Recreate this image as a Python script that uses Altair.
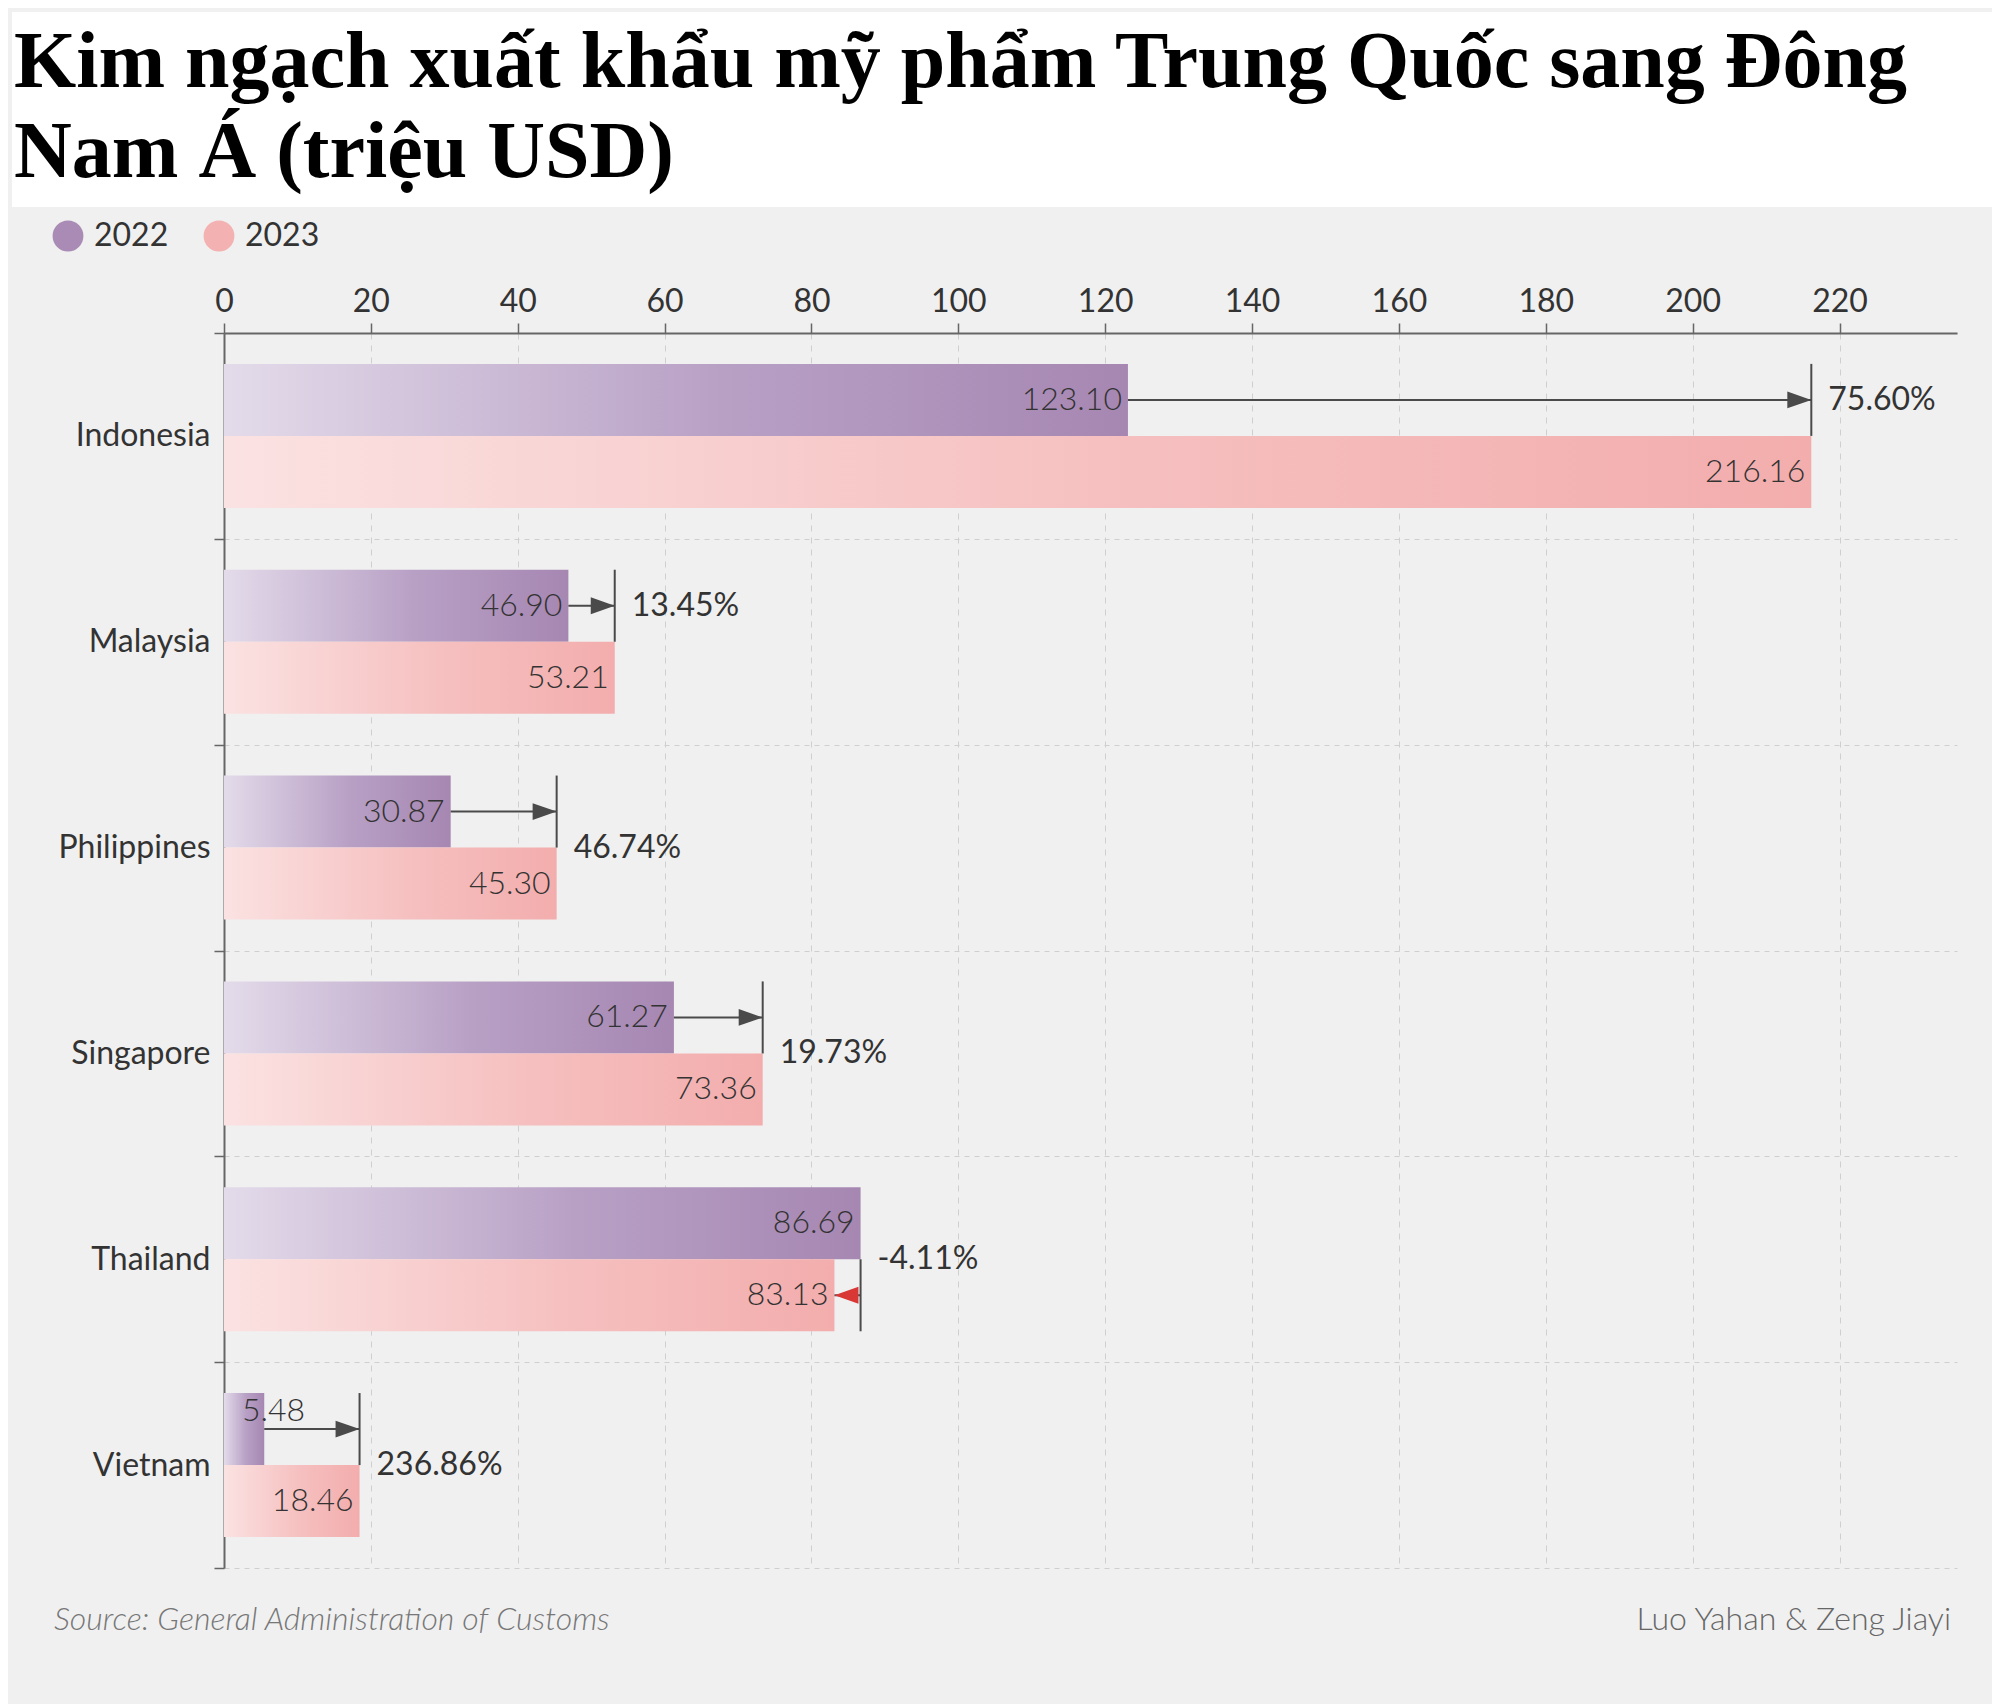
import altair as alt
import pandas as pd

# ---------------- data ----------------
countries = ["Indonesia", "Malaysia", "Philippines", "Singapore", "Thailand", "Vietnam"]
years = ["2022", "2023"]
v2022 = [123.10, 46.90, 30.87, 61.27, 86.69, 5.48]
v2023 = [216.16, 53.21, 45.30, 73.36, 83.13, 18.46]
pct_labels = ["75.60%", "13.45%", "46.74%", "19.73%", "-4.11%", "236.86%"]
pct_anchor = ["2022", "2022", "mid", "mid", "mid", "mid"]
x_ticks = [0, 20, 40, 60, 80, 100, 120, 140, 160, 180, 200, 220]

title_text = "Kim ngạch xuất khẩu mỹ phẩm Trung Quốc sang Đông\nNam Á (triệu USD)"
source_text = "Source: General Administration of Customs"
credit_text = "Luo Yahan & Zeng Jiayi"

# ---------------- tables ----------------
long_rows = []
for c, a, b in zip(countries, v2022, v2023):
    long_rows.append({"country": c, "year": "2022", "value": a, "label": f"{a:.2f}"})
    long_rows.append({"country": c, "year": "2023", "value": b, "label": f"{b:.2f}"})
long_df = pd.DataFrame(long_rows)

wide_df = pd.DataFrame({
    "country": countries,
    "v22": v2022,
    "v23": v2023,
    "pct": pct_labels,
    "anchor": pct_anchor,
})
wide_df["short_year"] = ["2022" if b > a else "2023" for a, b in zip(v2022, v2023)]
wide_df["xmax"] = [max(a, b) for a, b in zip(v2022, v2023)]
wide_df["up"] = [b > a for a, b in zip(v2022, v2023)]

# ---------------- styling ----------------
W, H = 1733, 1235
FONT = "Lato"
TXT = "#333333"
BG = "#f0f0f0"
C22, C23 = "#a98bb5", "#f4b1b1"
grad22 = {"gradient": "linear", "x1": 0, "y1": 0, "x2": 1, "y2": 0,
          "stops": [{"offset": 0, "color": "#e3dbea"},
                    {"offset": 0.55, "color": "#b8a0c5"},
                    {"offset": 1, "color": "#a687b2"}]}
grad23 = {"gradient": "linear", "x1": 0, "y1": 0, "x2": 1, "y2": 0,
          "stops": [{"offset": 0, "color": "#fbe2e2"},
                    {"offset": 0.55, "color": "#f6c0c0"},
                    {"offset": 1, "color": "#f3adad"}]}

x_axis = alt.Axis(orient="top", values=x_ticks, title=None, grid=True,
                  gridDash=[6, 6], gridColor="#cfcfcf", gridWidth=1,
                  domainColor="#666666", domainWidth=2, tickColor="#666666",
                  tickWidth=1.5, tickSize=10, labelFont=FONT, labelFontSize=32,
                  labelColor=TXT, labelPadding=5, labelFlush=False)
x_scale = alt.Scale(domain=[0, 236], nice=False, zero=True)

y_enc = alt.Y("country:N", sort=countries, title=None,
              scale=alt.Scale(paddingInner=0, paddingOuter=0),
              axis=alt.Axis(tickBand="extent", grid=True, gridDash=[5, 5],
                            gridColor="#cfcfcf", gridWidth=1,
                            domainColor="#666666", domainWidth=2,
                            tickColor="#666666", tickWidth=1.5, tickSize=10,
                            labelFont=FONT, labelFontSize=32, labelColor=TXT,
                            labelPadding=4))
yoff_scale = alt.Scale(domain=years, paddingInner=0, paddingOuter=0.4286)


def yoff(field):
    return alt.YOffset(f"{field}:N", scale=yoff_scale)


def xq(field):
    return alt.X(f"{field}:Q", scale=x_scale, axis=x_axis, title=None)


base_long = alt.Chart(long_df)
base_wide = alt.Chart(wide_df)
note_df = pd.DataFrame({"title": [title_text], "source": [source_text],
                        "credit": [credit_text]})
base_note = alt.Chart(note_df)

# white title band and the title itself
band = base_note.mark_rect(fill="#ffffff", stroke=None).encode(
    x=alt.value(-212), x2=alt.value(W + 35), y=alt.value(-321), y2=alt.value(-126))
title_layer = base_note.mark_text(
    align="left", baseline="alphabetic", lineBreak="\n", lineHeight=90,
    font="Liberation Serif", fontWeight="bold", fontSize=80, color="#000000"
).encode(x=alt.value(-210), y=alt.value(-246), text="title:N")

bars22 = base_long.transform_filter("datum.year == '2022'").mark_bar(
    fill=grad22, stroke=None).encode(x=xq("value"), y=y_enc, yOffset=yoff("year"))
bars23 = base_long.transform_filter("datum.year == '2023'").mark_bar(
    fill=grad23, stroke=None).encode(x=xq("value"), y=y_enc, yOffset=yoff("year"))

val_big = base_long.transform_filter("datum.value >= 12").mark_text(
    align="right", baseline="middle", dx=-6, font=FONT, fontWeight=300,
    fontSize=32, color=TXT).encode(x=xq("value"), y=y_enc, yOffset=yoff("year"),
                                   text="label:N")
val_small = base_long.transform_filter("datum.value < 12").transform_calculate(
    zero="0").mark_text(
    align="left", baseline="alphabetic", dx=18, dy=-8, font=FONT, fontWeight=300,
    fontSize=32, color=TXT).encode(x=xq("zero"), y=y_enc, yOffset=yoff("year"),
                                   text="label:N")

hline = base_wide.mark_rule(color="#4a4a4a", strokeWidth=2).encode(
    x=xq("v22"), x2="v23:Q", y=y_enc, yOffset=yoff("short_year"))
vtick = base_wide.mark_tick(orient="vertical", color="#4a4a4a", thickness=2,
                            size=72, opacity=1).encode(
    x=xq("xmax"), y=y_enc, yOffset=yoff("short_year"))
head_up = base_wide.transform_filter("datum.up").mark_point(
    shape="M-2,-0.7L0,0L-2,0.7Z", filled=True, size=576, color="#4a4a4a",
    opacity=1, strokeWidth=0).encode(x=xq("v23"), y=y_enc, yOffset=yoff("short_year"))
head_down = base_wide.transform_filter("!datum.up").mark_point(
    shape="M2,-0.7L0,0L2,0.7Z", filled=True, size=576, color="#d93636",
    opacity=1, strokeWidth=0).encode(x=xq("v23"), y=y_enc, yOffset=yoff("short_year"))

pct_bar = base_wide.transform_filter("datum.anchor == '2022'").mark_text(
    align="left", baseline="middle", dx=17, font=FONT, fontSize=32, color=TXT
).encode(x=xq("xmax"), y=y_enc, yOffset=yoff("anchor"), text="pct:N")
pct_mid = base_wide.transform_filter("datum.anchor == 'mid'").mark_text(
    align="left", baseline="middle", dx=17, font=FONT, fontSize=32, color=TXT
).encode(x=xq("xmax"), y=y_enc, text="pct:N")

legend_layer = base_long.transform_filter("false").mark_circle().encode(
    color=alt.Color("year:N", scale=alt.Scale(domain=years, range=[C22, C23]),
                    legend=alt.Legend(orient="none", legendX=-172, legendY=-113,
                                      direction="horizontal", title=None,
                                      symbolType="circle", symbolSize=950,
                                      symbolStrokeWidth=0, symbolOpacity=1,
                                      labelFont=FONT, labelFontSize=32,
                                      labelColor=TXT, labelOffset=10,
                                      columnPadding=34)))

source_layer = base_note.mark_text(
    align="left", baseline="alphabetic", font=FONT, fontStyle="italic",
    fontWeight=300, fontSize=32, color="#777777").encode(
    x=alt.value(-170), y=alt.value(H + 62), text="source:N")
credit_layer = base_note.mark_text(
    align="right", baseline="alphabetic", font=FONT, fontWeight=300,
    fontSize=32, color="#666666").encode(
    x=alt.value(W - 6), y=alt.value(H + 62), text="credit:N")

chart = alt.layer(band, title_layer, bars22, bars23, hline, vtick, head_up,
                  head_down, val_big, val_small, pct_bar, pct_mid, legend_layer,
                  source_layer, credit_layer).properties(
    width=W, height=H,
    padding={"left": 4, "top": 4, "right": 0, "bottom": 90}
).configure(background=BG).configure_view(stroke=None)

chart.save("out.html", embed_options={"renderer": "svg", "actions": False})
